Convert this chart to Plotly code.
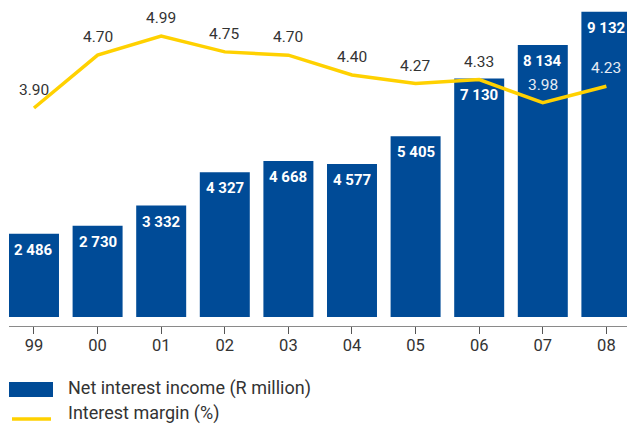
import plotly.graph_objects as go

years = ["99", "00", "01", "02", "03", "04", "05", "06", "07", "08"]
net_interest_income = [2486, 2730, 3332, 4327, 4668, 4577, 5405, 7130, 8134, 9132]
interest_margin = [3.90, 4.70, 4.99, 4.75, 4.70, 4.40, 4.27, 4.33, 3.98, 4.23]
# label colour for margin labels (light when drawn over a bar)
margin_label_light = [False, False, False, False, False, False, False, False, True, True]

BLUE = "#004b97"
YELLOW = "#ffd100"
TEXT = "#333333"
FONT = "Roboto"

fig = go.Figure()
fig.add_trace(go.Bar(x=years, y=net_interest_income, marker=dict(color=BLUE, line=dict(width=0)),
                     name="Net interest income (R million)", showlegend=False, hoverinfo="skip"))
fig.add_trace(go.Scatter(x=years, y=interest_margin, mode="lines", yaxis="y2",
                         line=dict(color=YELLOW, width=3.5), name="Interest margin (%)",
                         showlegend=False, hoverinfo="skip"))

annotations = []
for i, v in enumerate(net_interest_income):
    annotations.append(dict(x=i, y=v, xref="x", yref="y", text=f"{v:,}".replace(",", " "),
                            showarrow=False, yanchor="middle", yshift=-16,
                            font=dict(family=FONT, size=15, color="white", weight=700)))
for i, (v, light) in enumerate(zip(interest_margin, margin_label_light)):
    annotations.append(dict(x=i, y=v, xref="x", yref="y2", text=f"{v:.2f}",
                            showarrow=False, yanchor="middle", yshift=18,
                            font=dict(family=FONT, size=15.5, color="#e6ecf4" if light else TEXT)))

# custom legend (paper coords derived from pixel positions)
W = 627.0
H = 326.0
def px(x):
    return x / W
def py(y):
    return (H - y) / H

shapes = [
    dict(type="rect", xref="paper", yref="paper", x0=px(9), x1=px(53), y0=py(397), y1=py(382),
         fillcolor=BLUE, line=dict(width=0)),
    dict(type="line", xref="paper", yref="paper", x0=px(12), x1=px(51), y0=py(419), y1=py(419),
         line=dict(color=YELLOW, width=3.5)),
]
annotations.append(dict(xref="paper", yref="paper", x=px(66), y=py(388), xanchor="left", yanchor="middle",
                        text="Net interest income (R million)", showarrow=False,
                        font=dict(family=FONT, size=18, color=TEXT)))
annotations.append(dict(xref="paper", yref="paper", x=px(66), y=py(413), xanchor="left", yanchor="middle",
                        text="Interest margin (%)", showarrow=False,
                        font=dict(family=FONT, size=18, color=TEXT)))

fig.update_layout(
    width=627, height=428,
    margin=dict(l=0, r=0, t=0, b=102),
    paper_bgcolor="white", plot_bgcolor="white",
    bargap=0.214,
    xaxis=dict(type="category", domain=[9 / 627, 1], range=[-0.393, 9.324],
               showline=True, linecolor="#8a8a8a", linewidth=1.2,
               ticks="outside", ticklen=7, tickcolor="#555555", tickwidth=1,
               ticklabelstandoff=-3,
               tickfont=dict(family=FONT, size=16.5, color=TEXT), showgrid=False, zeroline=False),
    yaxis=dict(range=[-270, 9480], visible=False, showgrid=False, zeroline=False),
    yaxis2=dict(range=[0.597, 5.536], overlaying="y", visible=False, showgrid=False, zeroline=False),
    annotations=annotations,
    shapes=shapes,
    showlegend=False,
)

fig.write_html("out.html", config={"displayModeBar": False},
               post_script="document.body.style.margin='0';document.body.style.overflow='hidden';")
